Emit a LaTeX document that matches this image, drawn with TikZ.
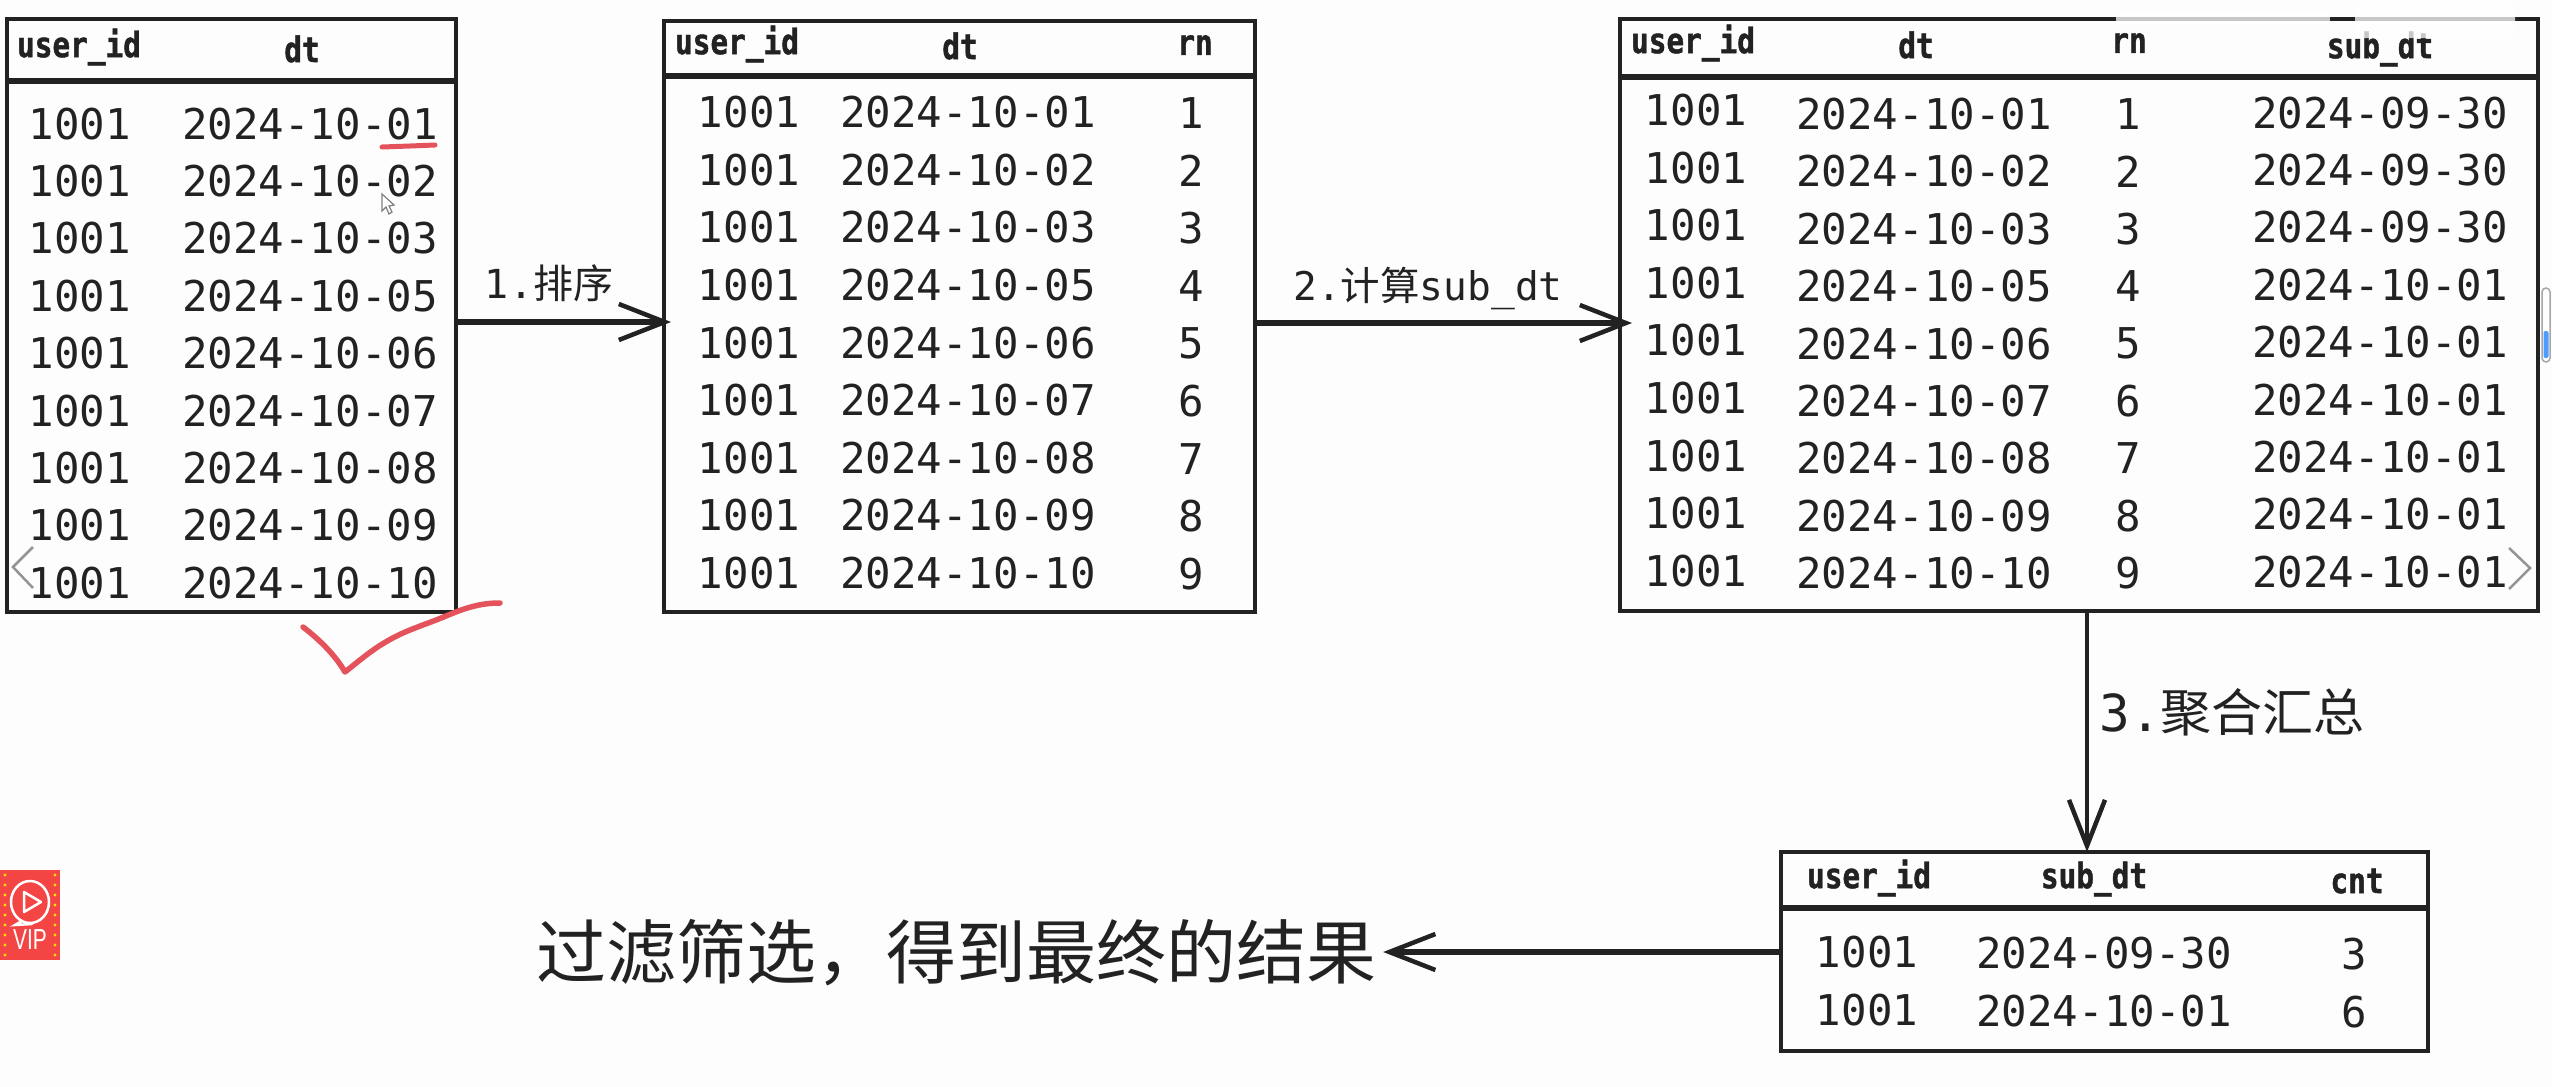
\documentclass[tikz,border=0pt]{standalone}
\usepackage{fontspec}
\setmainfont{DejaVu Sans Mono}
\setmonofont{DejaVu Sans Mono}
\newfontfamily\cjk{Noto Sans CJK SC}
\newfontfamily\headfont{DejaVu Sans Mono Bold}[FakeStretch=0.84,FakeBold=1.2]
\newfontfamily\vipfont{Liberation Sans}[FakeStretch=0.72]
\usetikzlibrary{arrows.meta,calc}
\definecolor{ink}{HTML}{222222}
\definecolor{paper}{HTML}{FDFDFD}
\definecolor{redpen}{HTML}{E4535B}
\definecolor{vipred}{HTML}{F44545}
\tikzset{
  tablebox/.style={draw=ink,line width=4.5pt,inner sep=0pt,outer sep=0pt},
  headrule/.style={draw=ink,line width=5.5pt},
  cell/.style={text=ink,inner sep=0pt,font=\fontsize{42.4}{42}\selectfont\ttfamily},
  headcell/.style={text=ink,inner sep=0pt,font=\fontsize{35}{35}\selectfont\headfont},
  steplabel/.style={text=ink,inner sep=0pt},
  flow/.style={draw=ink,line width=5.5pt,-{Straight Barb[length=46pt,width=36pt,line width=4.5pt]}},
  redmark/.style={draw=redpen,line width=5.5pt,line cap=round,line join=round},
  chev/.style={draw=black!42,line width=2.5pt}
}
\begin{document}
\begin{tikzpicture}[x=1pt,y=-1pt]
\path[use as bounding box,fill=paper] (0,0) rectangle (2552,1087);

% table boxes
\node[tablebox,minimum width=449pt,minimum height=593pt] (t1) at (231.5,315.5) {};
\node[tablebox,minimum width=591pt,minimum height=591pt] (t2) at (959.5,316.5) {};
\node[tablebox,minimum width=918pt,minimum height=592pt] (t3) at (2079,315) {};
\node[tablebox,minimum width=647pt,minimum height=199pt] (t4) at (2104.5,951.5) {};

% header rules
\coordinate (h1) at (0,81);
\coordinate (h2) at (0,76);
\coordinate (h3) at (0,77);
\coordinate (h4) at (0,908);
\draw[headrule] (t1.west |- h1) -- (t1.east |- h1);
\draw[headrule] (t2.west |- h2) -- (t2.east |- h2);
\draw[headrule] (t3.west |- h3) -- (t3.east |- h3);
\draw[headrule] (t4.west |- h4) -- (t4.east |- h4);

% headers
\node[headcell] (t1hu) at (79,47) {user\_id};
\node[headcell] (t1hd) at (302,49) {dt};
\node[headcell] (t2hu) at (737,44) {user\_id};
\node[headcell] (t2hd) at (960,46) {dt};
\node[headcell] (t2hr) at (1195,45) {rn};
\node[headcell] (t3hu) at (1693,43) {user\_id};
\node[headcell] (t3hd) at (1916,45) {dt};
\node[headcell] (t3hr) at (2129,43) {rn};
\node[headcell] (t3hs) at (2380,49) {sub\_dt};
\node[headcell] (t4hu) at (1869,878) {user\_id};
\node[headcell] (t4hs) at (2094,879) {sub\_dt};
\node[headcell] (t4hc) at (2357,881) {cnt};

% rows
\foreach \i/\d in {1/01,2/02,3/03,4/05,5/06,6/07,7/08,8/09,9/10}{
  \pgfmathsetmacro{\ya}{123.7+57.4*(\i-1)}
  \pgfmathsetmacro{\yb}{112.3+57.6*(\i-1)}
  \pgfmathsetmacro{\yc}{110+57.6*(\i-1)}
  \pgfmathsetmacro{\yd}{114+57.4*(\i-1)}
  \node[cell] (t1u\i) at (80,\ya) {1001};
  \node[cell] (t1d\i) at (310,\ya) {2024-10-\d};
  \node[cell] (t2u\i) at (749,\yb) {1001};
  \node[cell] (t2d\i) at (968,\yb) {2024-10-\d};
  \node[cell] (t2r\i) at (1191,\yb+1) {\i};
  \node[cell] (t3u\i) at (1696,\yc) {1001};
  \node[cell] (t3d\i) at (1924,\yd) {2024-10-\d};
  \node[cell] (t3r\i) at (2128,\yd) {\i};
}
\foreach \i/\s in {1/09-30,2/09-30,3/09-30,4/10-01,5/10-01,6/10-01,7/10-01,8/10-01,9/10-01}{
  \pgfmathsetmacro{\ye}{112.6+57.4*(\i-1)}
  \node[cell] (t3s\i) at (2380,\ye) {2024-\s};
}
\node[cell] (t4u1) at (1867,952) {1001};
\node[cell] (t4s1) at (2104,953) {2024-09-30};
\node[cell] (t4c1) at (2354,954) {3};
\node[cell] (t4u2) at (1867,1010) {1001};
\node[cell] (t4s2) at (2104,1011) {2024-10-01};
\node[cell] (t4c2) at (2354,1012) {6};

% connectors
\coordinate (lane12) at (0,322);
\coordinate (lane23) at (0,323);
\coordinate (lane34) at (2087,0);
\node[steplabel] (result) at (956,953)
  {\fontsize{70}{70}\selectfont\cjk 过滤筛选，得到最终的结果};
\draw[flow,shorten >=-7pt] (t1.east |- lane12) -- (t2.west |- lane12);
\draw[flow,shorten >=-12pt] (t2.east |- lane23) -- (t3.west |- lane23);
\draw[flow,line width=4.5pt] (lane34 |- t3.south) -- (lane34 |- t4.north);
\coordinate (lane4) at (0,952);
\draw[flow,shorten >=7pt] (t4.west |- lane4) -- (result.east |- lane4);

% connector labels
\node[steplabel] (l1) at (549,283) {\fontsize{40}{40}\selectfont\ttfamily 1.{\cjk 排序}};
\node[steplabel] (l2) at (1428,288) {\fontsize{39.5}{40}\selectfont\ttfamily 2.{\cjk 计算}sub\_dt};
\node[steplabel] (l3) at (2232,712) {\fontsize{51}{51}\selectfont\ttfamily 3.{\cjk 聚合汇总}};

% red pen marks
\draw[redmark,line width=5pt] (382,147) -- (410,146) -- (435,145);
\draw[redmark] (303,627) .. controls (320,640) and (335,655) .. (345,672)
  .. controls (360,660) and (372,650) .. (384,643)
  .. controls (405,630) and (425,625) .. (446,616)
  .. controls (465,608) and (480,603) .. (500,603);

% player overlays
\draw[chev] (33,547) -- (13,567) -- (33,588);
\draw[chev] (2509,548) -- (2530,568) -- (2509,589);
\fill[white,opacity=.75] (2116,12) rectangle (2330,26);
\fill[white,opacity=.75,rounded corners=8pt] (2355,0) rectangle (2515,38);
% scrollbar
\draw[black!35,line width=1.5pt,fill=white,rounded corners=4pt] (2542,288) rectangle (2550,362);
\fill[blue!55!cyan!70,rounded corners=2pt] (2543.5,331) rectangle (2548.5,358);
% cursor
\draw[black!50,line width=1.2pt,fill=white] (382,194) -- (382,211) -- (386,207) -- (389,214) -- (392,212) -- (389,206) -- (394,205) -- cycle;

% VIP badge
\fill[vipred] (0,870) rectangle (60,960);
\foreach \k in {0,...,8}{
  \fill[yellow!85!orange] (5,{875+10*\k}) circle (1.6pt);
  \fill[yellow!85!orange] (55,{875+10*\k}) circle (1.6pt);
}
\draw[white,line width=2.5pt] (30,902) ellipse (19pt and 21pt);
\draw[white,line width=2.5pt,line cap=round] (22,921) -- (15,925) -- (32,924);
\draw[white,line width=2.5pt,line join=round] (24,892) -- (41,902) -- (24,912) -- cycle;
\node[inner sep=0pt,text=white] (vip) at (30,940) {\fontsize{29}{29}\selectfont\vipfont VIP};
\end{tikzpicture}
\end{document}
